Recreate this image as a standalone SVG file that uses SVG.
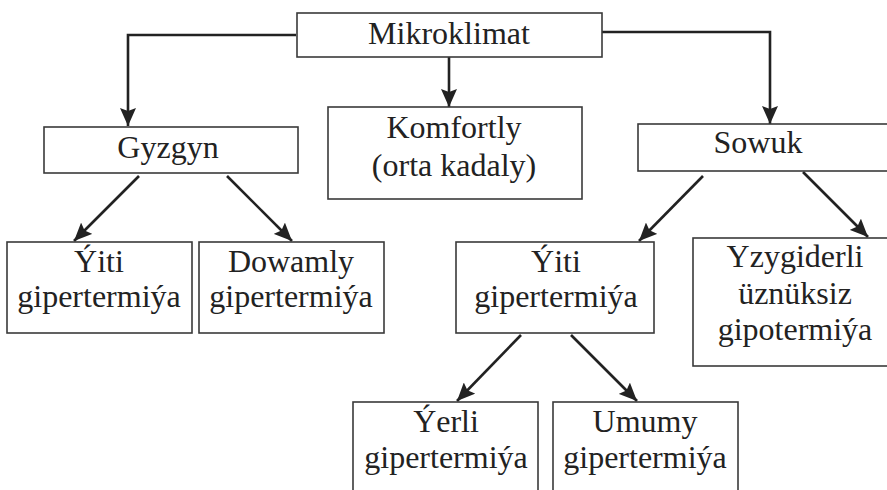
<svg xmlns="http://www.w3.org/2000/svg" width="887" height="490" viewBox="0 0 887 490">
<defs>
<marker id="ah" markerUnits="userSpaceOnUse" markerWidth="20" markerHeight="16" viewBox="0 0 20 16" refX="18" refY="8" orient="auto">
<path d="M0,0 L18,8 L0,16 L3,8 z" fill="#222"/>
</marker>
</defs>
<rect width="887" height="490" fill="#fff"/>
<g id="connectors" fill="none" stroke="#222" stroke-width="2.6">
<path d="M296,35 H128 V126" marker-end="url(#ah)"/>
<path d="M449,57 V107" marker-end="url(#ah)"/>
<path d="M602,32 H770 V124" marker-end="url(#ah)"/>
<path d="M139,176 L74,241" marker-end="url(#ah)"/>
<path d="M227,176 L292,241" marker-end="url(#ah)"/>
<path d="M703,176 L639,241" marker-end="url(#ah)"/>
<path d="M803,172 L868,237" marker-end="url(#ah)"/>
<path d="M521,335 L457,401" marker-end="url(#ah)"/>
<path d="M571,335 L637,401" marker-end="url(#ah)"/>
</g>
<g id="mikroklimat">
<rect x="297" y="13" width="305" height="44" fill="#fff" stroke="#3a3a3a" stroke-width="1.6"/>
<text font-family="Liberation Serif" font-size="32" fill="#222" text-anchor="middle" x="449" y="44">Mikroklimat</text>
</g>
<g id="gyzgyn">
<rect x="44" y="127" width="254" height="46" fill="#fff" stroke="#3a3a3a" stroke-width="1.6"/>
<text font-family="Liberation Serif" font-size="32" fill="#222" text-anchor="middle" x="168" y="158">Gyzgyn</text>
</g>
<g id="komfortly">
<rect x="328" y="107" width="254" height="92" fill="#fff" stroke="#3a3a3a" stroke-width="1.6"/>
<text font-family="Liberation Serif" font-size="32" fill="#222" text-anchor="middle" x="454" y="138">Komfortly</text>
<text font-family="Liberation Serif" font-size="32" fill="#222" text-anchor="middle" x="454" y="176">(orta kadaly)</text>
</g>
<g id="sowuk">
<rect x="638" y="124" width="260" height="47" fill="#fff" stroke="#3a3a3a" stroke-width="1.6"/>
<text font-family="Liberation Serif" font-size="32" fill="#222" text-anchor="middle" x="758" y="153">Sowuk</text>
</g>
<g id="yiti-giper-1">
<rect x="7" y="242" width="185" height="91" fill="#fff" stroke="#3a3a3a" stroke-width="1.6"/>
<text font-family="Liberation Serif" font-size="32" fill="#222" text-anchor="middle" x="99" y="272">Ýiti</text>
<text font-family="Liberation Serif" font-size="32" fill="#222" text-anchor="middle" x="99" y="307">gipertermiýa</text>
</g>
<g id="dowamly">
<rect x="199" y="242" width="185" height="91" fill="#fff" stroke="#3a3a3a" stroke-width="1.6"/>
<text font-family="Liberation Serif" font-size="32" fill="#222" text-anchor="middle" x="291" y="272">Dowamly</text>
<text font-family="Liberation Serif" font-size="32" fill="#222" text-anchor="middle" x="291" y="307">gipertermiýa</text>
</g>
<g id="yiti-giper-2">
<rect x="456" y="242" width="198" height="91" fill="#fff" stroke="#3a3a3a" stroke-width="1.6"/>
<text font-family="Liberation Serif" font-size="32" fill="#222" text-anchor="middle" x="556" y="272">Ýiti</text>
<text font-family="Liberation Serif" font-size="32" fill="#222" text-anchor="middle" x="556" y="307">gipertermiýa</text>
</g>
<g id="yzygiderli">
<rect x="693" y="238" width="205" height="128" fill="#fff" stroke="#3a3a3a" stroke-width="1.6"/>
<text font-family="Liberation Serif" font-size="32" fill="#222" text-anchor="middle" x="795" y="267">Yzygiderli</text>
<text font-family="Liberation Serif" font-size="32" fill="#222" text-anchor="middle" x="795" y="304">üznüksiz</text>
<text font-family="Liberation Serif" font-size="32" fill="#222" text-anchor="middle" x="795" y="340">gipotermiýa</text>
</g>
<g id="yerli">
<rect x="353" y="402" width="185" height="100" fill="#fff" stroke="#3a3a3a" stroke-width="1.6"/>
<text font-family="Liberation Serif" font-size="32" fill="#222" text-anchor="middle" x="446" y="432">Ýerli</text>
<text font-family="Liberation Serif" font-size="32" fill="#222" text-anchor="middle" x="446" y="468">gipertermiýa</text>
</g>
<g id="umumy">
<rect x="553" y="402" width="185" height="100" fill="#fff" stroke="#3a3a3a" stroke-width="1.6"/>
<text font-family="Liberation Serif" font-size="32" fill="#222" text-anchor="middle" x="645" y="432">Umumy</text>
<text font-family="Liberation Serif" font-size="32" fill="#222" text-anchor="middle" x="645" y="468">gipertermiýa</text>
</g>
</svg>
